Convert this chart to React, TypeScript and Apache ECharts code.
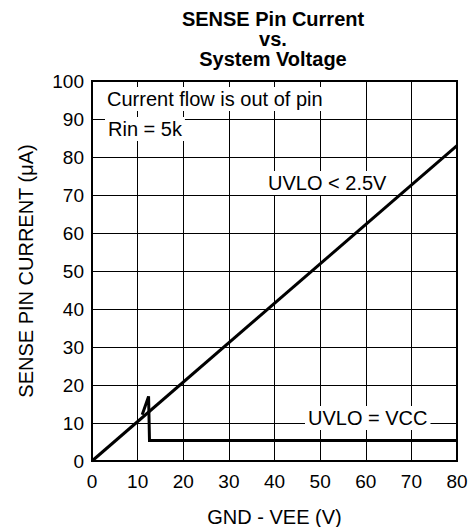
import React, { useEffect, useRef } from "react";
import * as echarts from "echarts";

const xTicks = [0, 10, 20, 30, 40, 50, 60, 70, 80];
const yTicks = [0, 10, 20, 30, 40, 50, 60, 70, 80, 90, 100];
const uvloLowData: [number, number][] = [[0, 0], [80, 83]];
const uvloVccData: [number, number][] = [[11.0, 12.2], [12.4, 17.0], [12.6, 5.4], [80, 5.4]];
const titleText = "SENSE Pin Current\nvs.\nSystem Voltage";
const xName = "GND - VEE (V)";
const yName = "SENSE PIN CURRENT (μA)";
const notes = ["Current flow is out of pin", "Rin = 5k", "UVLO < 2.5V", "UVLO = VCC"];

const FONT = "Liberation Sans, Arial, sans-serif";

export default function App() {
  const ref = useRef<HTMLDivElement>(null);
  useEffect(() => {
    if (!ref.current) return;
    const chart = echarts.init(ref.current, undefined, { renderer: "svg" });
    const noteStyle = (text: string) => ({
      text,
      font: `20px ${FONT}`,
      fill: "#000",
      backgroundColor: "#fff",
      padding: [2, 3, 2, 3],
      align: "left",
      verticalAlign: "middle",
    });
    chart.setOption({
      animation: false,
      backgroundColor: "#fff",
      textStyle: { fontFamily: FONT },
      title: {
        text: titleText,
        left: 268,
        top: 4,
        textAlign: "center",
        textStyle: { fontFamily: FONT, fontSize: 20, fontWeight: "bold", color: "#000", lineHeight: 20 },
      },
      grid: {
        left: 92, right: 14, top: 81, bottom: 66,
        outerBoundsMode: "none",
        containLabel: false,
        show: true, borderColor: "#000", borderWidth: 2, backgroundColor: "transparent",
      },
      xAxis: {
        type: "value",
        min: xTicks[0],
        max: xTicks[xTicks.length - 1],
        interval: 10,
        name: xName,
        nameLocation: "middle",
        nameGap: 46,
        nameTextStyle: { fontFamily: FONT, fontSize: 20, color: "#000" },
        axisLine: { lineStyle: { color: "#000", width: 2 } },
        axisTick: { show: false },
        axisLabel: { fontFamily: FONT, fontSize: 19, color: "#000", margin: 11 },
        splitLine: { show: true, lineStyle: { color: "#000", width: 1 } },
      },
      yAxis: {
        type: "value",
        min: yTicks[0],
        max: yTicks[yTicks.length - 1],
        interval: 10,
        name: yName,
        nameLocation: "middle",
        nameGap: 56,
        nameTextStyle: { fontFamily: FONT, fontSize: 20, color: "#000" },
        axisLine: { lineStyle: { color: "#000", width: 2 } },
        axisTick: { show: false },
        axisLabel: { fontFamily: FONT, fontSize: 19, color: "#000", margin: 8 },
        splitLine: { show: true, lineStyle: { color: "#000", width: 1 } },
      },
      series: [
        {
          type: "line",
          data: uvloLowData,
          showSymbol: false,
          lineStyle: { color: "#000", width: 3 },
          z: 3,
        },
        {
          type: "line",
          data: uvloVccData,
          showSymbol: false,
          lineStyle: { color: "#000", width: 3, join: "miter" },
          z: 3,
        },
      ],
      graphic: [
        { type: "text", x: 104, y: 99, z: 10, style: noteStyle(notes[0]) },
        { type: "text", x: 105, y: 129, z: 10, style: noteStyle(notes[1]) },
        { type: "text", x: 265, y: 183, z: 10, style: noteStyle(notes[2]) },
        { type: "text", x: 305, y: 418, z: 10, style: noteStyle(notes[3]) },
      ],
    });
    return () => chart.dispose();
  }, []);
  return <div ref={ref} style={{ width: 471, height: 527, position: "absolute", left: 0, top: 0 }} />;
}
